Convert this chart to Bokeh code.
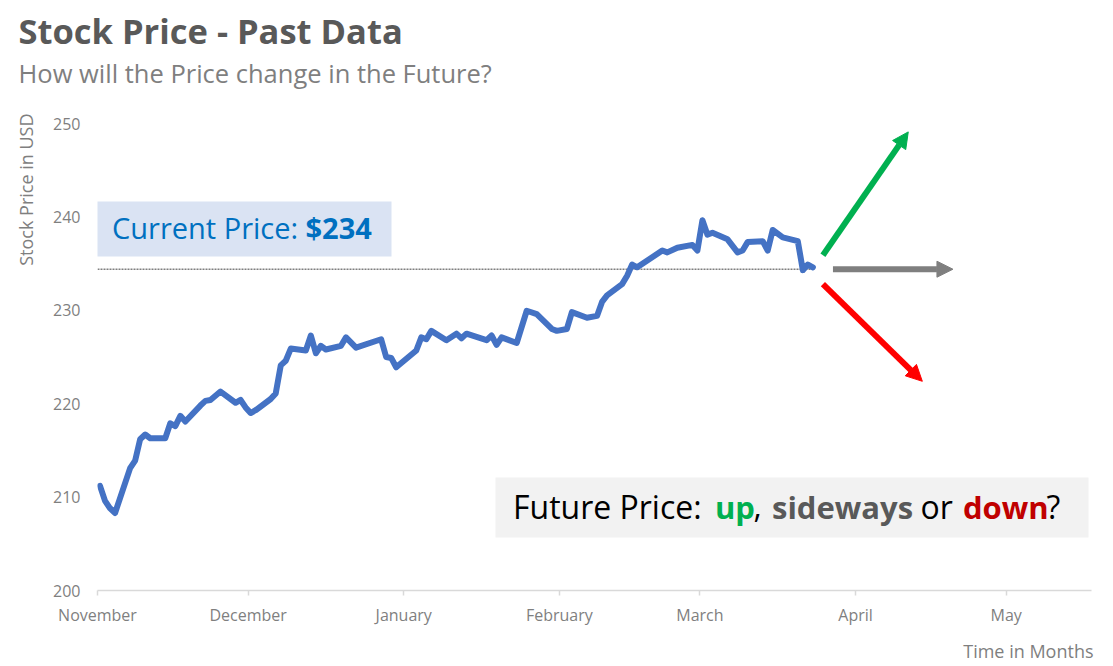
import pandas as pd
from bokeh.plotting import figure
from bokeh.models import (Range1d, Label, BoxAnnotation, Arrow, NormalHead, Title,
                          MonthsTicker, DatetimeTickFormatter, FixedTicker)
from bokeh.embed import file_html
from bokeh.resources import INLINE

# ---------------- data ----------------
DATES = [
    "2016-11-01", "2016-11-02", "2016-11-03", "2016-11-04", "2016-11-07", "2016-11-08",
    "2016-11-09", "2016-11-10", "2016-11-11", "2016-11-14", "2016-11-15", "2016-11-16",
    "2016-11-17", "2016-11-18", "2016-11-21", "2016-11-22", "2016-11-23", "2016-11-25",
    "2016-11-28", "2016-11-29", "2016-11-30", "2016-12-01", "2016-12-02", "2016-12-05",
    "2016-12-06", "2016-12-07", "2016-12-08", "2016-12-09", "2016-12-12", "2016-12-13",
    "2016-12-14", "2016-12-15", "2016-12-16", "2016-12-19", "2016-12-20", "2016-12-22",
    "2016-12-27", "2016-12-28", "2016-12-29", "2016-12-30", "2017-01-03", "2017-01-04",
    "2017-01-05", "2017-01-06", "2017-01-09", "2017-01-11", "2017-01-12", "2017-01-13",
    "2017-01-17", "2017-01-18", "2017-01-19", "2017-01-20", "2017-01-23", "2017-01-25",
    "2017-01-27", "2017-01-30", "2017-01-31", "2017-02-02", "2017-02-03", "2017-02-06",
    "2017-02-08", "2017-02-09", "2017-02-10", "2017-02-13", "2017-02-14", "2017-02-15",
    "2017-02-16", "2017-02-21", "2017-02-22", "2017-02-24", "2017-02-27", "2017-02-28",
    "2017-03-01", "2017-03-02", "2017-03-03", "2017-03-06", "2017-03-08", "2017-03-09",
    "2017-03-10", "2017-03-13", "2017-03-14", "2017-03-15", "2017-03-17", "2017-03-20",
    "2017-03-21", "2017-03-22", "2017-03-23",
]
PRICES = [
    211.2, 209.6, 208.8, 208.3, 213.1, 213.9,
    216.2, 216.7, 216.3, 216.3, 217.9, 217.6,
    218.7, 218.1, 219.8, 220.3, 220.4, 221.3,
    220.1, 220.4, 219.6, 219.0, 219.3, 220.5,
    221.1, 224.1, 224.6, 225.9, 225.7, 227.3,
    225.4, 226.2, 225.8, 226.2, 227.1, 226.0,
    226.9, 225.0, 224.9, 223.9, 225.7, 227.1,
    226.9, 227.8, 226.8, 227.5, 227.0, 227.5,
    226.8, 227.3, 226.3, 227.1, 226.5, 229.95,
    229.6, 228.0, 227.8, 228.0, 229.8, 229.2,
    229.4, 230.9, 231.6, 232.8, 233.7, 234.9,
    234.6, 236.4, 236.2, 236.7, 237.0, 236.4,
    239.65, 238.1, 238.3, 237.6, 236.2, 236.4,
    237.3, 237.4, 236.4, 238.6, 237.8, 237.4,
    234.3, 234.9, 234.6,
]
CURRENT_PRICE = 234.4
Y_TICKS = [200, 210, 220, 230, 240, 250]

TITLE = "Stock Price - Past Data"
SUBTITLE = "How will the Price change in the Future?"
Y_LABEL = "Stock Price in USD"
X_LABEL = "Time in Months"

# scenario arrows: (days after start, price) -> (days after start, price)
ARROW_UP = (144.5, 235.9, 161.5, 249.1)
ARROW_SIDE = (146.5, 234.4, 170.4, 234.4)
ARROW_DOWN = (144.5, 232.8, 164.3, 222.4)

# ---------------- geometry ----------------
W, H = 1113, 666
FL, FR, FT, FB = 97, 1091, 123, 590
X_START = pd.Timestamp("2016-11-01")
X_END = X_START + pd.Timedelta(days=198)
Y0, Y1 = 200, 250
DAY_MS = 86400000
xs_ms = X_START.value // 10**6
xe_ms = X_END.value // 10**6


def xd(px):
    return xs_ms + (px - FL) / (FR - FL) * (xe_ms - xs_ms)


def yd(py):
    return Y1 - (py - FT) / (FB - FT) * (Y1 - Y0)


def dday(d):
    return xs_ms + d * DAY_MS


FONT = "Open Sans"
GREY = "#7f7f7f"

p = figure(width=W, height=H, x_axis_type="datetime", output_backend="svg",
           toolbar_location=None, title=None,
           x_range=Range1d(xs_ms, xe_ms), y_range=Range1d(Y0, Y1),
           min_border_left=FL, min_border_right=W - FR,
           min_border_top=FT, min_border_bottom=H - FB)
p.outline_line_color = None
p.background_fill_color = "white"
p.border_fill_color = "white"
p.grid.visible = False

# y axis
p.yaxis.ticker = FixedTicker(ticks=Y_TICKS)
p.yaxis.axis_line_color = None
p.yaxis.major_tick_line_color = None
p.yaxis.minor_tick_line_color = None
p.yaxis.major_tick_out = 0
p.yaxis.major_tick_in = 0
p.yaxis.major_label_standoff = 17
p.yaxis.major_label_text_font = FONT
p.yaxis.major_label_text_font_size = "16px"
p.yaxis.major_label_text_color = GREY

# x axis
p.xaxis.ticker = MonthsTicker(months=list(range(1, 13)))
p.xaxis.formatter = DatetimeTickFormatter(months="%B", days="%B", years="%B")
p.xaxis.axis_line_color = "#d9d9d9"
p.xaxis.axis_line_width = 1.5
p.xaxis.major_tick_line_color = "#d9d9d9"
p.xaxis.major_tick_line_width = 1.5
p.xaxis.minor_tick_line_color = None
p.xaxis.major_tick_out = 5
p.xaxis.major_tick_in = 0
p.xaxis.major_label_standoff = 8
p.xaxis.major_label_text_font = FONT
p.xaxis.major_label_text_font_size = "16px"
p.xaxis.major_label_text_color = GREY

# ---------------- titles in the side panels ----------------
# spacer between frame and subtitle
p.add_layout(Title(text=" ", text_font_size="10px", standoff=21), "above")
p.add_layout(Title(text=SUBTITLE, align="left", offset=18 - FL, standoff=0,
                   vertical_align="bottom", text_font=FONT, text_font_size="25.5px",
                   text_font_style="normal", text_color=GREY), "above")
p.add_layout(Title(text=TITLE, align="left", offset=18 - FL, standoff=0,
                   vertical_align="bottom", text_font=FONT, text_font_size="34.5px",
                   text_font_style="bold", text_color="#595959"), "above")

p.add_layout(Title(text=Y_LABEL, align="right", offset=-10, standoff=21,
                   vertical_align="top", text_font=FONT, text_font_size="18px",
                   text_font_style="normal", text_color=GREY), "left")

p.add_layout(Title(text=" ", text_font_size="1px", standoff=5), "below")
p.add_layout(Title(text=X_LABEL, align="right", offset=-2, standoff=0,
                   vertical_align="bottom", text_font=FONT, text_font_size="18px",
                   text_font_style="normal", text_color=GREY), "below")

# boxes
p.add_layout(BoxAnnotation(left=xd(96), right=xd(391), top=yd(201), bottom=yd(256),
                           fill_color="#dae3f3", fill_alpha=1, line_color=None,
                           level="underlay"))
p.add_layout(BoxAnnotation(left=xd(495), right=xd(1088), top=yd(477), bottom=yd(537),
                           fill_color="#f2f2f2", fill_alpha=1, line_color=None,
                           level="underlay"))

# price line
x_dates = pd.to_datetime(DATES) + pd.Timedelta(hours=12)
p.line([xs_ms, x_dates[-1]], [CURRENT_PRICE, CURRENT_PRICE], line_color=GREY,
       line_width=1.5, line_dash="2 1")
p.line(x_dates, PRICES, line_color="#4472c4", line_width=6,
       line_join="round", line_cap="round")

# arrows
for (d0, v0, d1, v1), col in ((ARROW_UP, "#00b050"), (ARROW_SIDE, "#7f7f7f"),
                              (ARROW_DOWN, "#ff0000")):
    p.add_layout(Arrow(end=NormalHead(size=16, fill_color=col, line_color=col),
                       x_start=dday(d0), y_start=v0, x_end=dday(d1), y_end=v1,
                       line_color=col, line_width=6))


def lab(text, px, baseline_py, size, color, bold=False, align="left"):
    # Bokeh draws the alphabetic baseline ~0.4 em lower than the anchor
    py = baseline_py - 0.4 * size
    p.add_layout(Label(x=xd(px), y=yd(py), text=text, text_font=FONT,
                       text_font_size=f"{size}px", text_color=color,
                       text_font_style="bold" if bold else "normal",
                       text_align=align, text_baseline="alphabetic"))


lab("Current Price: ", 111.5, 238.5, 29, "#0070c0")
lab("$" + str(round(CURRENT_PRICE)), 305, 238.5, 29, "#0070c0", bold=True)

FY = 518.5
lab("Future Price:", 512.5, FY, 32, "#000000")
lab("up", 714.5, FY, 31, "#00b050", bold=True)
lab(",", 753, FY, 32, "#000000")
lab("sideways", 771.5, FY, 31, "#595959", bold=True)
lab("or", 920, FY, 32, "#000000")
lab("down", 962.5, FY, 31, "#c00000", bold=True)
lab("?", 1046, FY, 32, "#000000")

open("out.html", "w").write(file_html(p, INLINE))
